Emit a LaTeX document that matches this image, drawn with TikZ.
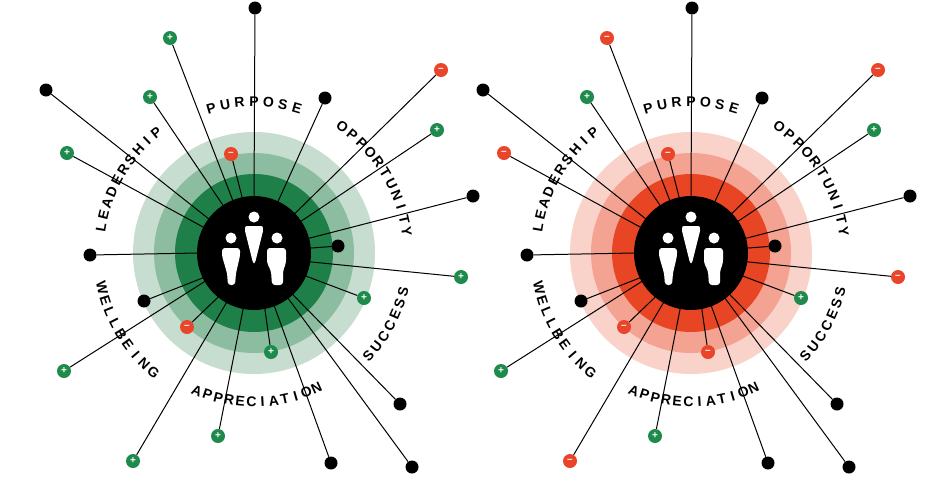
\documentclass[tikz,border=0pt]{standalone}
\usepackage{fontspec}
\setmainfont{Liberation Sans}
\definecolor{gO}{HTML}{C6DDD0}\definecolor{gM}{HTML}{8DBDA0}\definecolor{gD}{HTML}{1F7F49}
\definecolor{rO}{HTML}{F9D2CA}\definecolor{rM}{HTML}{F4A292}\definecolor{rD}{HTML}{E84524}
\definecolor{mkG}{HTML}{1E8A4C}\definecolor{mkR}{HTML}{E8452A}
\begin{document}
\begin{tikzpicture}[x=1pt,y=1pt,
  spoke/.style={line width=1pt,black},
  mkb/.style={circle,fill=black,minimum size=13pt,inner sep=0pt},
  mkg/.style={circle,fill=mkG,minimum size=14pt,inner sep=0pt,text=white,font=\bfseries\fontsize{10}{10}\selectfont},
  mkr/.style={circle,fill=mkR,minimum size=14pt,inner sep=0pt,text=white,font=\bfseries\fontsize{10}{10}\selectfont},
  lbl/.style={font=\bfseries\fontsize{14}{14}\selectfont,inner sep=0pt},
  fig/.style={fill=white,draw=none}]
\useasboundingbox (0,0) rectangle (936,-480);
\def\lines{1/255/8/90/b/b,2/170/38/112/g/r,3/150/97/123/g/g,4/46/90/143/b/b,5/67/153/153/g/r,6/231/154/102/r/r,7/90/255/180/b/b,8/144/301/206/b/b,9/64/371/210/g/g,10/187/327/231/r/r,11/133/461/241/g/r,12/218/436/259/g/g,13/271/352/281/g/r,14/331/463/291/b/b,15/400/404/313/b/b,16/412/467/307/b/b,17/364/298/336/g/g,18/461/277/351/g/r,19/338/246/5/b/b,20/473/196/15/b/b,21/437/130/34/g/g,22/441/70/44/r/r,23/325/98/65/b/b}
\expandafter\def\csname sym-b\endcsname{}
\expandafter\def\csname sym-g\endcsname{+}
\expandafter\def\csname sym-r\endcsname{\raisebox{0.6pt}{--}}
\newcommand\arctext[5]{% radius, start, step, rotoffset, letters
  \foreach \l [count=\i] in {#5}{
    \pgfmathsetmacro\ang{#2+(\i-1)*#3}
    \node[lbl,rotate=\ang+#4] (t\i) at (\ang:#1) {\l};}}
\newcommand\unit[5]{% prefix, shift, outer, mid, dark
\begin{scope}[shift={(#2,-253)}]
  \fill[#3] (0,0) circle (121);
  \fill[#4] (0,0) circle (100);
  \fill[#5] (0,0) circle (79);
\end{scope}}
\newcommand\spokes[2]{% shift, side
\begin{scope}[shift={(#1,-253)}]
  \foreach \i/\px/\py/\a/\tl/\tr in \lines{
    \if#2l\edef\mt{\tl}\else\edef\mt{\tr}\fi
    \coordinate (c\i) at (\a:56);
    \node[mk\mt] (m\i) at (\px-254,253-\py) {\csname sym-\mt\endcsname};
    \draw[spoke] (m\i) -- (c\i);}
  \fill[black] (0,0) circle (57);
  \fill[fig] (0,36) circle (5.5);
  \fill[fig] (-9,22) .. controls (-9,27) .. (-5,27) -- (5,27) .. controls (9,27) .. (9,22) -- (1.5,-8) .. controls (0,-11) .. (-1.5,-8) -- cycle;
  \fill[fig] (-23,15) circle (5.5);
  \fill[fig,rounded corners=3pt] (-32,-3) -- (-32,5) -- (-14,5) -- (-14,-3) -- (-18,-20) -- (-19,-32) -- (-26,-32) -- (-27,-20) -- cycle;
  \fill[fig] (23,15) circle (5.5);
  \fill[fig,rounded corners=3pt] (13,-10) -- (13,5) -- (32,5) -- (32,-10) -- (29,-18) -- (29,-32) -- (18,-32) -- (17,-18) -- cycle;
  \arctext{151}{106.5}{-5.5}{-90}{P,U,R,P,O,S,E}
  \arctext{155}{170.5}{-4.6}{-90}{L,E,A,D,E,R,S,H,I,P}
  \arctext{154}{55}{-4.7}{-90}{O,P,P,O,R,T,U,N,I,T,Y}
  \arctext{154}{318}{4.6}{90}{S,U,C,C,E,S,S}
  \arctext{149}{247.5}{4.3}{90}{A,P,P,R,E,C,I,A,T,I,O,N}
  \arctext{156}{193}{4.6}{90}{W,E,L,L,B,E,I,N,G}
\end{scope}}
\unit{L}{254}{gO}{gM}{gD}
\spokes{254}{l}
\unit{R}{691}{rO}{rM}{rD}
\spokes{691}{r}
\end{tikzpicture}
\end{document}
